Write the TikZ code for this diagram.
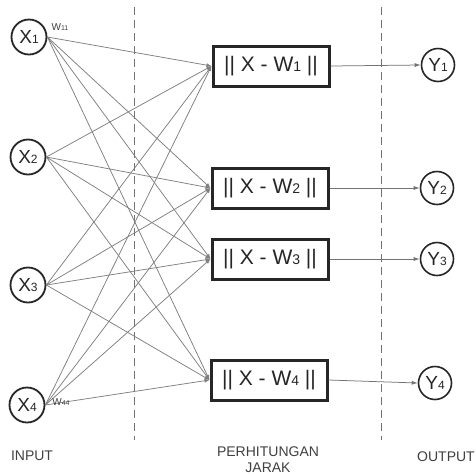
\documentclass[tikz,border=0pt]{standalone}
\usepackage{fontspec}
\setmainfont{Liberation Sans}
\usetikzlibrary{arrows.meta}
\newcommand{\mysub}[2]{{\fontsize{#1}{#1}\selectfont #2}}
\tikzset{
  innode/.style={circle, draw=black!85, line width=1.8pt, minimum size=35pt, inner sep=0pt, font=\fontsize{19}{19}\selectfont, text=black!85},
  outnode/.style={circle, draw=black!85, line width=1.6pt, minimum size=33pt, inner sep=0pt, font=\fontsize{19}{19}\selectfont, text=black!85},
  distbox/.style={rectangle, draw=black!85, line width=3pt, minimum width=116pt, minimum height=40pt, inner sep=0pt, font=\fontsize{21}{21}\selectfont, text=black!85},
  wire/.style={draw=black!50, line width=0.75pt, -{Latex[length=5pt,width=4pt]}},
  outwire/.style={draw=black!55, line width=0.75pt, -{Latex[length=6pt,width=4pt]}},
  divider/.style={draw=black!55, line width=1pt, dash pattern=on 8pt off 5pt},
  caption/.style={font=\fontsize{14}{16}\selectfont, text=black!75, align=center},
  wlabel/.style={font=\fontsize{10}{10}\selectfont, text=black!75}
}
\begin{document}
\begin{tikzpicture}[x=1pt,y=-1pt]
\useasboundingbox (0,0) rectangle (476,475);
\fill[white] (0,0) rectangle (476,475);
% dividers
\coordinate (d1t) at (134,7); \coordinate (d1b) at (134,440);
\coordinate (d2t) at (381,7); \coordinate (d2b) at (381,440);
\draw[divider] (d1t) -- (d1b);
\draw[divider] (d2t) -- (d2b);
% input nodes
\node[innode] (x1) at (29,37) {X\mysub{12}{1}};
\node[innode] (x2) at (28,157) {X\mysub{12}{2}};
\node[innode] (x3) at (28,285) {X\mysub{12}{3}};
\node[innode] (x4) at (27,405) {X\mysub{12}{4}};
% boxes
\node[distbox] (b1) at (271,66) {|| X - W\mysub{14}{1} ||};
\node[distbox] (b2) at (270,188) {|| X - W\mysub{14}{2} ||};
\node[distbox] (b3) at (270,259) {|| X - W\mysub{14}{3} ||};
\node[distbox] (b4) at (269,380) {|| X - W\mysub{14}{4} ||};
% outputs
\node[outnode] (y1) at (438,65) {Y\mysub{12}{1}};
\node[outnode] (y2) at (437,188) {Y\mysub{12}{2}};
\node[outnode] (y3) at (437,259) {Y\mysub{12}{3}};
\node[outnode] (y4) at (435,383) {Y\mysub{12}{4}};
% connections
\foreach \i in {1,2,3,4}{
  \foreach \j in {1,2,3,4}{
    \draw[wire] (x\i.east) -- (b\j.west);
  }
}
\draw[outwire] (b1.east) -- (y1.west);
\draw[outwire] (b2.east) -- (y2.west);
\draw[outwire] (b3.east) -- (y3.west);
\draw[outwire] (b4.east) -- (y4.west);
% weight labels
\node[wlabel] (w11) at (60,27) {W\mysub{7}{11}};
\node[wlabel] (w44) at (61,402) {W\mysub{7}{44}};
% captions
\node[caption] (cin) at (32,456) {INPUT};
\node[caption] (cmid) at (268,460) {PERHITUNGAN\\JARAK};
\node[caption] (cout) at (446,457) {OUTPUT};
\end{tikzpicture}
\end{document}
